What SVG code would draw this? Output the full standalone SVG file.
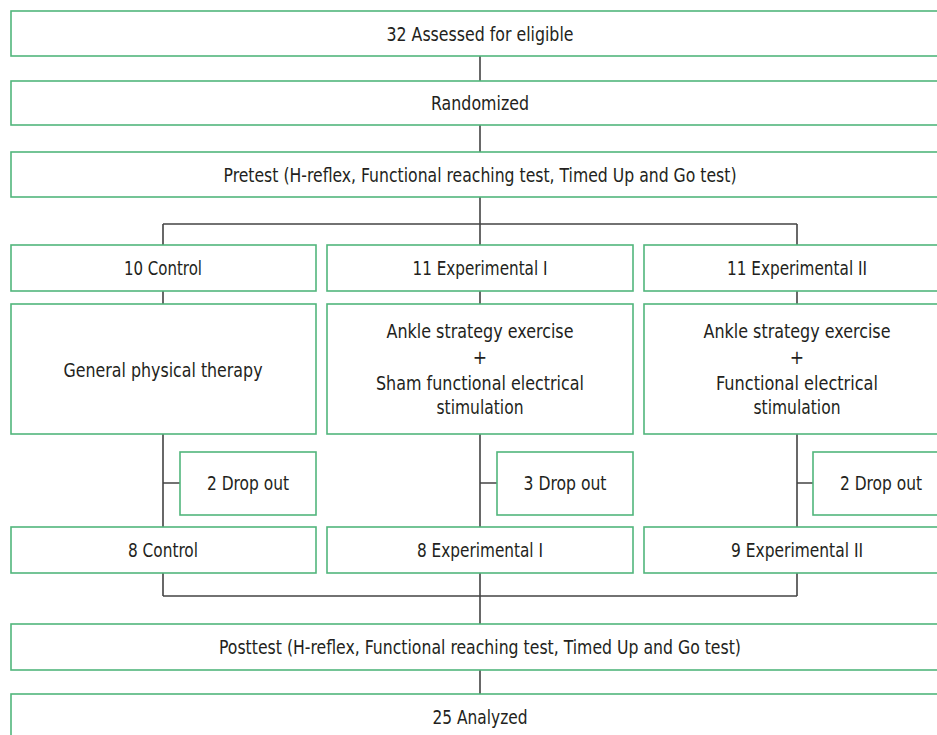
<svg xmlns="http://www.w3.org/2000/svg" width="937" height="735" viewBox="0 0 937 735">
<style>
.box{fill:#fff;stroke:#52b67c;stroke-width:1.6}
.t{font-family:"DejaVu Sans Condensed","Liberation Sans",sans-serif;font-size:19px;fill:#231f20;text-anchor:middle}
.c{fill:none;stroke:#444;stroke-width:1.6}
</style>
<rect width="937" height="735" fill="#fff"/>
<g id="connectors">
<path class="c" d="M480 56V81M480 125V152M480 197V224M163 224H797M163 224V245M480 224V245M797 224V245"/>
<path class="c" d="M163 291V304M480 291V304M797 291V304"/>
<path class="c" d="M163 434V527M480 434V527M797 434V527M163 483H180M480 483H497M797 483H813"/>
<path class="c" d="M163 573V596M480 573V596M797 573V596M163 596H797M480 596V624M480 670V694"/>
</g>
<g id="n1"><rect class="box" x="11" y="11" width="940" height="45"/><text class="t" x="480" y="41" textLength="187" lengthAdjust="spacingAndGlyphs">32 Assessed for eligible</text></g>
<g id="n2"><rect class="box" x="11" y="81" width="940" height="44"/><text class="t" x="480" y="110" textLength="98" lengthAdjust="spacingAndGlyphs">Randomized</text></g>
<g id="n3"><rect class="box" x="11" y="152" width="940" height="45"/><text class="t" x="480" y="182" textLength="513" lengthAdjust="spacingAndGlyphs">Pretest (H-reflex, Functional reaching test, Timed Up and Go test)</text></g>
<g id="g1"><rect class="box" x="11" y="245" width="305" height="46"/><text class="t" x="163" y="275" textLength="78" lengthAdjust="spacingAndGlyphs">10 Control</text></g>
<g id="g2"><rect class="box" x="327" y="245" width="306" height="46"/><text class="t" x="480" y="275" textLength="135" lengthAdjust="spacingAndGlyphs">11 Experimental I</text></g>
<g id="g3"><rect class="box" x="644" y="245" width="306" height="46"/><text class="t" x="797" y="275" textLength="140" lengthAdjust="spacingAndGlyphs">11 Experimental II</text></g>
<g id="i1"><rect class="box" x="11" y="304" width="305" height="130"/><text class="t" x="163" y="377" textLength="199" lengthAdjust="spacingAndGlyphs">General physical therapy</text></g>
<g id="i2"><rect class="box" x="327" y="304" width="306" height="130"/><text class="t" x="480" y="338" textLength="187" lengthAdjust="spacingAndGlyphs">Ankle strategy exercise</text><text class="t" x="480" y="364">+</text><text class="t" x="480" y="390" textLength="208" lengthAdjust="spacingAndGlyphs">Sham functional electrical</text><text class="t" x="480" y="414" textLength="87" lengthAdjust="spacingAndGlyphs">stimulation</text></g>
<g id="i3"><rect class="box" x="644" y="304" width="306" height="130"/><text class="t" x="797" y="338" textLength="187" lengthAdjust="spacingAndGlyphs">Ankle strategy exercise</text><text class="t" x="797" y="364">+</text><text class="t" x="797" y="390" textLength="162" lengthAdjust="spacingAndGlyphs">Functional electrical</text><text class="t" x="797" y="414" textLength="87" lengthAdjust="spacingAndGlyphs">stimulation</text></g>
<g id="d1"><rect class="box" x="180" y="452" width="136" height="63"/><text class="t" x="248" y="490" textLength="82" lengthAdjust="spacingAndGlyphs">2 Drop out</text></g>
<g id="d2"><rect class="box" x="497" y="452" width="136" height="63"/><text class="t" x="565" y="490" textLength="83" lengthAdjust="spacingAndGlyphs">3 Drop out</text></g>
<g id="d3"><rect class="box" x="813" y="452" width="136" height="63"/><text class="t" x="881" y="490" textLength="82" lengthAdjust="spacingAndGlyphs">2 Drop out</text></g>
<g id="f1"><rect class="box" x="11" y="527" width="305" height="46"/><text class="t" x="163" y="557" textLength="70" lengthAdjust="spacingAndGlyphs">8 Control</text></g>
<g id="f2"><rect class="box" x="327" y="527" width="306" height="46"/><text class="t" x="480" y="557" textLength="126" lengthAdjust="spacingAndGlyphs">8 Experimental I</text></g>
<g id="f3"><rect class="box" x="644" y="527" width="306" height="46"/><text class="t" x="797" y="557" textLength="132" lengthAdjust="spacingAndGlyphs">9 Experimental II</text></g>
<g id="n4"><rect class="box" x="11" y="624" width="940" height="46"/><text class="t" x="480" y="654" textLength="522" lengthAdjust="spacingAndGlyphs">Posttest (H-reflex, Functional reaching test, Timed Up and Go test)</text></g>
<g id="n5"><rect class="box" x="11" y="694" width="940" height="50"/><text class="t" x="480" y="724" textLength="95" lengthAdjust="spacingAndGlyphs">25 Analyzed</text></g>
</svg>
